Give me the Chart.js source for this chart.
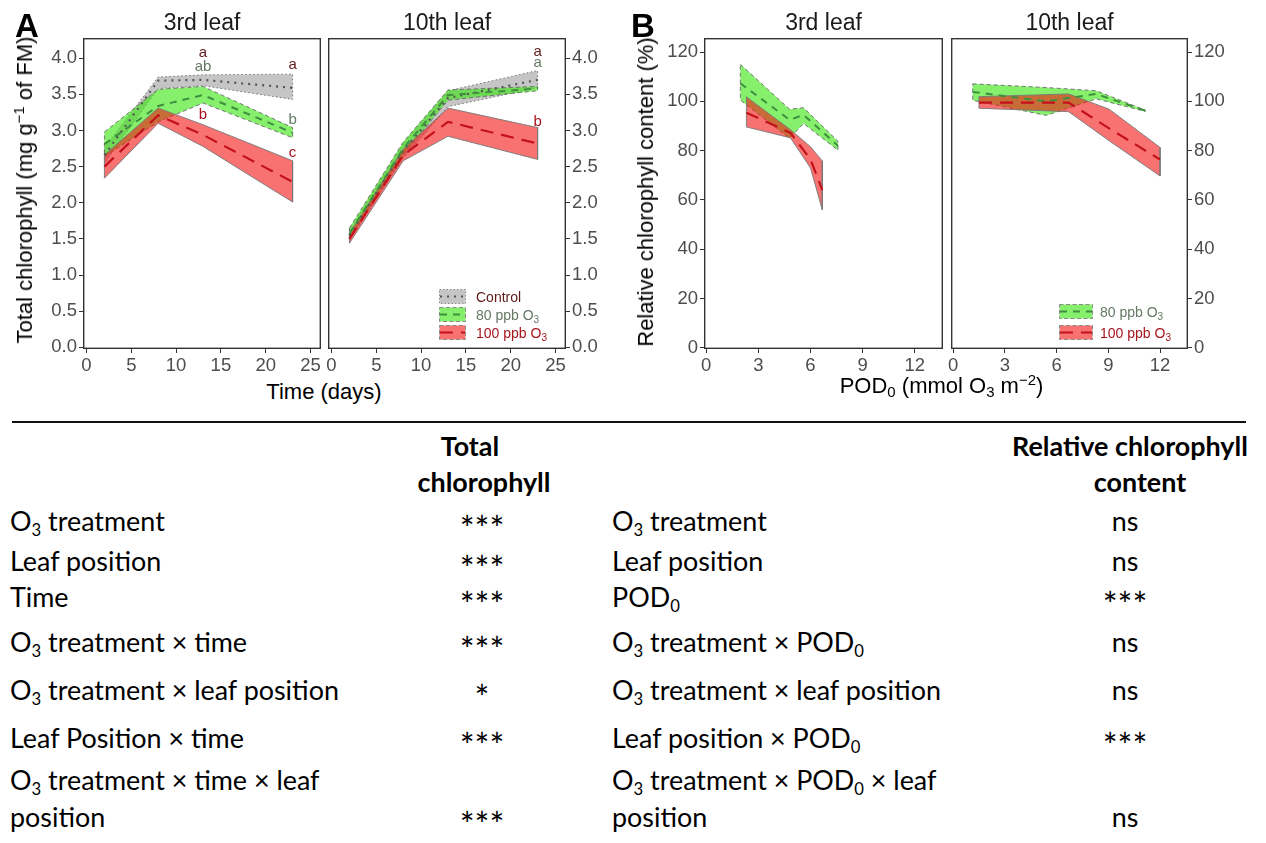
<!DOCTYPE html>
<html>
<head>
<meta charset="utf-8">
<script src="https://cdn.jsdelivr.net/npm/chart.js@4.4.1/dist/chart.umd.min.js"></script>
<style>
html,body{margin:0;padding:0;background:#fff;}
#root{position:relative;width:1266px;height:843px;overflow:hidden;background:#fff;}
.t{position:absolute;white-space:pre;line-height:1;}
.ar{font-family:"Liberation Sans",Arial,sans-serif;}
.lt{font-family:Lato,"Noto Sans",sans-serif;color:#000;}
canvas{position:absolute;}
sub,sup{line-height:0;}
</style>
</head>
<body><div id="root"></div>
<script>
// ---------------- DATA ----------------
const timeTicks = [0, 5, 10, 15, 20, 25];
const chlTicks = [0, 0.5, 1, 1.5, 2, 2.5, 3, 3.5, 4];
const podTicks = [0, 3, 6, 9, 12];
const relTicks = [0, 20, 40, 60, 80, 100, 120];

// Panel A, 3rd leaf (days)
const days3rd = [2, 8, 13, 23];
const ctrl3rdMean = [2.66, 3.69, 3.70, 3.59];
const ctrl3rdLo   = [2.55, 3.58, 3.62, 3.43];
const ctrl3rdHi   = [2.76, 3.74, 3.77, 3.78];
const o80_3rdMean = [2.81, 3.34, 3.49, 2.97];
const o80_3rdLo   = [2.64, 3.12, 3.38, 2.90];
const o80_3rdHi   = [2.98, 3.57, 3.61, 3.04];
const o100_3rdMean = [2.50, 3.21, 2.94, 2.29];
const o100_3rdLo   = [2.34, 3.10, 2.78, 2.01];
const o100_3rdHi   = [2.66, 3.31, 3.08, 2.58];

// Panel A, 10th leaf
const days10th = [2, 8, 13, 23];
const ctrl10thMean = [1.55, 2.72, 3.45, 3.70];
const ctrl10thLo   = [1.48, 2.62, 3.33, 3.59];
const ctrl10thHi   = [1.62, 2.82, 3.55, 3.83];
const o80_10thMean = [1.57, 2.75, 3.49, 3.58];
const o80_10thLo   = [1.50, 2.67, 3.42, 3.55];
const o80_10thHi   = [1.65, 2.84, 3.56, 3.61];
const o100_10thMean = [1.50, 2.66, 3.12, 2.82];
const o100_10thLo   = [1.44, 2.58, 2.92, 2.60];
const o100_10thHi   = [1.57, 2.74, 3.31, 3.04];

// Panel B, 3rd leaf (POD0)
const pod80_3rd = [1.97, 4.8, 5.6, 7.58];
const rel80_3rdMean = [107.3, 92.5, 94.5, 82.0];
const rel80_3rdLo   = [100.5, 85.0, 91.0, 80.2];
const rel80_3rdHi   = [115.0, 96.8, 97.4, 83.8];
const pod100_3rd = [2.32, 4.85, 6.0, 6.68];
const rel100_3rdMean = [95.4, 87.2, 76.5, 64.0];
const rel100_3rdLo   = [89.6, 85.2, 73.0, 56.0];
const rel100_3rdHi   = [101.8, 88.5, 81.6, 75.8];

// Panel B, 10th leaf
const pod80_10th = [1.14, 5.4, 8.3, 11.15];
const rel80_10thMean = [103.8, 100.0, 103.0, 96.2];
const rel80_10thLo   = [100.4, 94.3, 101.0, 95.9];
const rel80_10thHi   = [107.1, 105.6, 104.3, 96.4];
const pod100_10th = [1.5, 6.7, 9.05, 12.0];
const rel100_10thMean = [99.5, 99.5, 89.0, 76.4];
const rel100_10thLo   = [97.2, 95.8, 84.0, 69.7];
const rel100_10thHi   = [101.9, 103.0, 96.8, 81.3];

// significance letters: [day, value, text, group]
const letters3rd = [[13, 4.07, 'a', 'ctrl'], [13, 3.88, 'ab', 'o80'], [13, 3.21, 'b', 'o100'],
                    [23, 3.91, 'a', 'ctrl'], [23, 3.15, 'b', 'o80'], [23, 2.69, 'c', 'o100']];
const letters10th = [[23, 4.09, 'a', 'ctrl'], [23, 3.94, 'a', 'o80'], [23, 3.12, 'b', 'o100']];

// table
const chlTerms = ['O3 treatment', 'Leaf position', 'Time', 'O3 treatment × time',
  'O3 treatment × leaf position', 'Leaf Position × time', 'O3 treatment × time × leaf\nposition'];
const chlSig = ['***', '***', '***', '***', '*', '***', '***'];
const relTerms = ['O3 treatment', 'Leaf position', 'POD0', 'O3 treatment × POD0',
  'O3 treatment × leaf position', 'Leaf position × POD0', 'O3 treatment × POD0 × leaf\nposition'];
const relSig = ['ns', 'ns', '***', 'ns', 'ns', '***', 'ns'];

// ---------------- STYLE / LAYOUT ----------------
const STY = {
  ctrl: {fill: 'rgba(150,150,150,0.55)', edge: 'rgba(105,105,105,0.9)', edgeDash: [1.5, 2.5], line: '#555555', lineDash: [2, 5], lw: 2.2, text: '#5e1b1b'},
  o80:  {fill: 'rgba(60,230,20,0.62)', edge: 'rgba(105,105,105,0.9)', edgeDash: [4, 3], line: '#3f8f3f', lineDash: [7, 6], lw: 2, text: '#647a64'},
  o100: {fill: 'rgba(245,20,20,0.6)', edge: 'rgba(120,120,120,0.9)', edgeDash: [], line: '#c3121b', lineDash: [13, 8], lw: 2.2, text: '#a8141c'}
};
const XH = 30, YW = 52, PADX = 14, PLOT_T = 38, PLOT_B = 349;
const root = document.getElementById('root');
const ARIAL = '"Liberation Sans", Arial, sans-serif';

function ribbonData(xs, lo, hi) {
  const pts = xs.map((x, i) => ({x: x, y: hi[i]}));
  for (let i = xs.length - 1; i >= 0; i--) pts.push({x: xs[i], y: lo[i]});
  pts.push({x: xs[0], y: hi[0]});
  return pts;
}
function lineData(xs, ys) { return xs.map((x, i) => ({x: x, y: ys[i]})); }
function groupDatasets(groups) {
  const ds = []; let n = 0;
  groups.forEach(g => ds.push({data: ribbonData(g.xs, g.lo, g.hi), fill: 'shape', backgroundColor: STY[g.s].fill,
    borderColor: STY[g.s].edge, borderWidth: 1, borderDash: STY[g.s].edgeDash, pointRadius: 0, tension: 0, order: 100 - (n++)}));
  groups.forEach(g => ds.push({data: lineData(g.xs, g.mean), fill: false, borderColor: STY[g.s].line,
    borderWidth: STY[g.s].lw, borderDash: STY[g.s].lineDash, pointRadius: 0, tension: 0, order: 100 - (n++)}));
  return ds;
}
const framePlugin = {id: 'frame', afterDraw(chart) {
  const {ctx, chartArea: a} = chart; ctx.save(); ctx.strokeStyle = '#333'; ctx.lineWidth = 1.4;
  ctx.strokeRect(a.left + 0.7, a.top + 0.7, a.right - a.left - 1.4, a.bottom - a.top - 1.4); ctx.restore(); }};
function lettersPlugin(items) {
  return {id: 'letters', afterDatasetsDraw(chart) {
    const {ctx, scales} = chart; ctx.save(); ctx.font = '15px ' + ARIAL; ctx.textAlign = 'center'; ctx.textBaseline = 'middle';
    items.forEach(([d, v, t, g]) => { ctx.fillStyle = STY[g].text; ctx.fillText(t, scales.x.getPixelForValue(d), scales.y.getPixelForValue(v)); });
    ctx.restore(); }};
}
function makeChart(p) {
  const cv = document.createElement('canvas');
  const left = p.side === 'left' ? p.L - YW : p.L - PADX;
  const w = p.R - p.L + YW + PADX, h = PLOT_B - PLOT_T + XH;
  cv.width = w; cv.height = h;
  cv.style.left = left + 'px'; cv.style.top = PLOT_T + 'px'; cv.style.width = w + 'px'; cv.style.height = h + 'px';
  root.appendChild(cv);
  const tickFont = {family: ARIAL, size: 18.5};
  const grid = {drawOnChartArea: false, drawTicks: true, tickLength: 4, color: '#333', lineWidth: 1};
  new Chart(cv.getContext('2d'), {
    type: 'line',
    data: {datasets: p.datasets},
    options: {
      responsive: false, animation: false, devicePixelRatio: 1, events: [],
      layout: {padding: p.side === 'left' ? {left: 0, right: PADX, top: 0, bottom: 0} : {left: PADX, right: 0, top: 0, bottom: 0}},
      plugins: {legend: {display: false}, tooltip: {enabled: false}},
      scales: {
        x: {type: 'linear', min: p.xmin, max: p.xmax, grid: grid, border: {display: false},
          ticks: {font: tickFont, color: '#4d4d4d', padding: 2, maxRotation: 0, autoSkip: false, callback: v => String(v)},
          afterBuildTicks: s => { s.ticks = p.xticks.map(v => ({value: v})); },
          afterFit: s => { s.height = XH; s.paddingLeft = 0; s.paddingRight = 0; }},
        y: {type: 'linear', position: p.side, min: p.ymin, max: p.ymax, grid: grid, border: {display: false},
          ticks: {font: tickFont, color: '#4d4d4d', padding: 2, autoSkip: false, callback: v => p.yfmt(v)},
          afterBuildTicks: s => { s.ticks = p.yticks.map(v => ({value: v})); },
          afterFit: s => { s.width = YW; s.paddingTop = 0; s.paddingBottom = 0; }}
      }
    },
    plugins: [framePlugin, lettersPlugin(p.letters || [])]
  });
}

const A = {xmin: -0.39, xmax: 26.17, ymin: -0.024, ymax: 4.28, xticks: timeTicks, yticks: chlTicks, yfmt: v => v.toFixed(1)};
const B = {xmin: -0.12, xmax: 13.62, ymin: -0.5, ymax: 125.7, xticks: podTicks, yticks: relTicks, yfmt: v => String(v)};

makeChart(Object.assign({}, A, {L: 83, R: 321, side: 'left', letters: letters3rd, datasets: groupDatasets([
  {xs: days3rd, mean: ctrl3rdMean, lo: ctrl3rdLo, hi: ctrl3rdHi, s: 'ctrl'},
  {xs: days3rd, mean: o80_3rdMean, lo: o80_3rdLo, hi: o80_3rdHi, s: 'o80'},
  {xs: days3rd, mean: o100_3rdMean, lo: o100_3rdLo, hi: o100_3rdHi, s: 'o100'}])}));
makeChart(Object.assign({}, A, {L: 328, R: 566, side: 'right', letters: letters10th, datasets: groupDatasets([
  {xs: days10th, mean: ctrl10thMean, lo: ctrl10thLo, hi: ctrl10thHi, s: 'ctrl'},
  {xs: days10th, mean: o80_10thMean, lo: o80_10thLo, hi: o80_10thHi, s: 'o80'},
  {xs: days10th, mean: o100_10thMean, lo: o100_10thLo, hi: o100_10thHi, s: 'o100'}])}));
makeChart(Object.assign({}, B, {L: 704, R: 943, side: 'left', datasets: groupDatasets([
  {xs: pod80_3rd, mean: rel80_3rdMean, lo: rel80_3rdLo, hi: rel80_3rdHi, s: 'o80'},
  {xs: pod100_3rd, mean: rel100_3rdMean, lo: rel100_3rdLo, hi: rel100_3rdHi, s: 'o100'}])}));
makeChart(Object.assign({}, B, {L: 951, R: 1188, side: 'right', datasets: groupDatasets([
  {xs: pod80_10th, mean: rel80_10thMean, lo: rel80_10thLo, hi: rel80_10thHi, s: 'o80'},
  {xs: pod100_10th, mean: rel100_10thMean, lo: rel100_10thLo, hi: rel100_10thHi, s: 'o100'}])}));

// ---------------- TEXT ----------------
function fmt(s) {
  return s.replace(/O3/g, 'O<sub style="font-size:0.62em;vertical-align:-0.32em">3</sub>')
          .replace(/POD0/g, 'POD<sub style="font-size:0.62em;vertical-align:-0.32em">0</sub>');
}
function txt(html, x, y, size, o) {
  o = o || {};
  const d = document.createElement('div');
  d.className = 't ' + (o.cls || 'ar');
  d.innerHTML = html;
  d.style.fontSize = size + 'px';
  if (o.bold) d.style.fontWeight = 'bold';
  d.style.color = o.color || '#000';
  const frac = o.frac !== undefined ? o.frac : 0.49;
  d.style.top = (y - frac * size) + 'px';
  d.style.left = x + 'px';
  if (o.align === 'center') d.style.transform = 'translateX(-50%)';
  if (o.align === 'right') d.style.transform = 'translateX(-100%)';
  if (o.rot) { d.style.top = y + 'px'; d.style.transform = 'translate(-50%,-50%) rotate(-90deg)'; }
  root.appendChild(d);
  return d;
}
// panel letters
txt('A', 15, 25, 33, {bold: true});
txt('B', 631, 25, 33, {bold: true});
// strips
txt('3rd leaf', 202, 22.5, 23, {align: 'center', color: '#1a1a1a'});
txt('10th leaf', 447, 22.5, 23, {align: 'center', color: '#1a1a1a'});
txt('3rd leaf', 823.5, 22.5, 23, {align: 'center', color: '#1a1a1a'});
txt('10th leaf', 1069.5, 22.5, 23, {align: 'center', color: '#1a1a1a'});
// axis titles
txt('Total chlorophyll (mg g<sup style="font-size:0.68em;vertical-align:0.55em">\u22121</sup> of FM)', 25, 190, 22, {rot: true});
txt('Relative chlorophyll content (%)', 646, 192, 22, {rot: true});
txt('Time (days)', 324, 392, 22, {align: 'center'});
txt('POD<sub style="font-size:0.68em;vertical-align:-0.3em">0</sub> (mmol O<sub style="font-size:0.68em;vertical-align:-0.3em">3</sub> m<sup style="font-size:0.68em;vertical-align:0.55em">\u22122</sup>)', 941.5, 386, 22, {align: 'center'});

// legends
function key(x, y, w, h, s) {
  const st = STY[s];
  const ns = 'http://www.w3.org/2000/svg';
  const svg = document.createElementNS(ns, 'svg');
  svg.setAttribute('width', w); svg.setAttribute('height', h);
  svg.style.position = 'absolute'; svg.style.left = x + 'px'; svg.style.top = y + 'px';
  const r = document.createElementNS(ns, 'rect');
  r.setAttribute('x', 0.5); r.setAttribute('y', 0.5); r.setAttribute('width', w - 1); r.setAttribute('height', h - 1);
  r.setAttribute('fill', st.fill); r.setAttribute('stroke', '#8a8a8a'); r.setAttribute('stroke-width', 1);
  r.setAttribute('stroke-dasharray', s === 'ctrl' ? '1.5,2' : '4,2.5');
  svg.appendChild(r);
  const l = document.createElementNS(ns, 'line');
  l.setAttribute('x1', 1); l.setAttribute('x2', w - 1); l.setAttribute('y1', h / 2); l.setAttribute('y2', h / 2);
  l.setAttribute('stroke', st.line); l.setAttribute('stroke-width', 2);
  l.setAttribute('stroke-dasharray', st.lineDash.join(','));
  svg.appendChild(l);
  root.appendChild(svg);
}
const subL = s => s.replace('O3', 'O<sub style="font-size:0.72em;vertical-align:-0.3em">3</sub>');
key(439, 289, 27, 15, 'ctrl'); txt('Control', 476, 296.5, 14, {color: STY.ctrl.text});
key(439, 307, 27, 15, 'o80'); txt(subL('80 ppb O3'), 476, 314.5, 14, {color: STY.o80.text});
key(439, 325, 27, 15, 'o100'); txt(subL('100 ppb O3'), 476, 332.5, 14, {color: STY.o100.text});
key(1059, 304, 34, 15, 'o80'); txt(subL('80 ppb O3'), 1100, 311.5, 14, {color: STY.o80.text});
key(1059, 325, 34, 15, 'o100'); txt(subL('100 ppb O3'), 1100, 332.5, 14, {color: STY.o100.text});

// ---------------- TABLE ----------------
const rule = document.createElement('div');
rule.style.cssText = 'position:absolute;left:12px;top:421px;width:1234px;height:2px;background:#111;';
root.appendChild(rule);
const mctx = document.createElement('canvas').getContext('2d');
mctx.font = '100px Lato';
const TS = Math.round(100 * 152 / mctx.measureText('Leaf position').width * 10) / 10;
const TF = 0.58;
const rowY = [524, 564, 600, 645, 693, 741, 783];
const lineGap = 37;
txt('Total', 470, 449, TS, {cls: 'lt', bold: true, align: 'center', frac: TF});
txt('chlorophyll', 484, 485, TS, {cls: 'lt', bold: true, align: 'center', frac: TF});
txt('Relative chlorophyll', 1130, 449, TS, {cls: 'lt', bold: true, align: 'center', frac: TF});
txt('content', 1140, 485, TS, {cls: 'lt', bold: true, align: 'center', frac: TF});
function sigText(s, x, y) {
  if (s.indexOf('*') >= 0) {
    const S = TS * 1.3;
    txt(s, x, y - 3, S, {cls: 'lt', align: 'center', frac: 0.31});
  } else {
    txt(s, x, y, TS, {cls: 'lt', align: 'center', frac: TF});
  }
}
function termRows(terms, sigs, xl, xs) {
  terms.forEach((t, i) => {
    const parts = t.split('\n');
    parts.forEach((p, j) => txt(fmt(p), xl, rowY[i] + j * lineGap, TS, {cls: 'lt', frac: TF}));
    sigText(sigs[i], xs, rowY[i] + (parts.length - 1) * lineGap);
  });
}
termRows(chlTerms, chlSig, 10, 482);
termRows(relTerms, relSig, 612, 1125);
</script>
</body>
</html>
